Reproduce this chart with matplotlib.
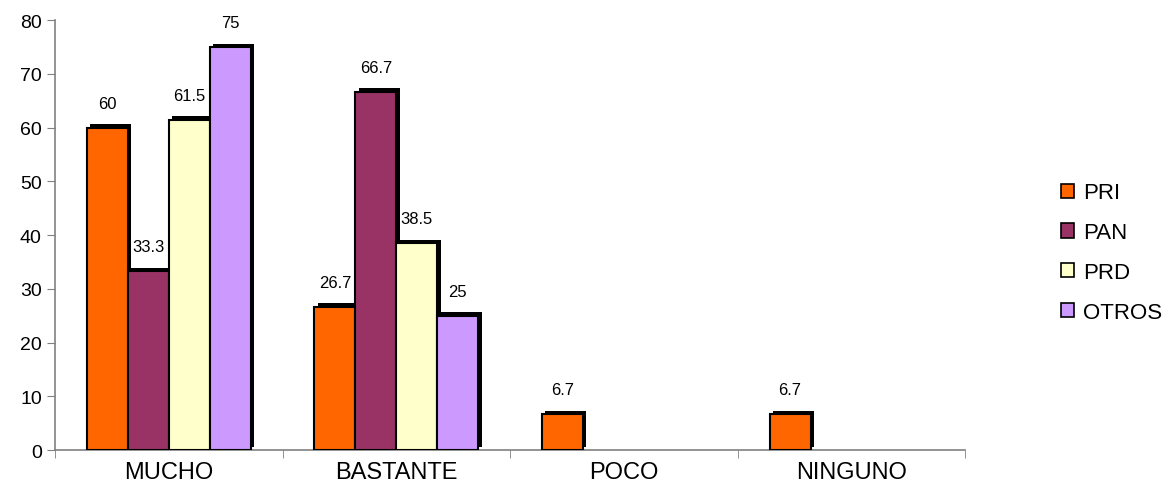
import matplotlib
matplotlib.use("Agg")
import matplotlib.pyplot as plt
import matplotlib.patheffects as pe
import numpy as np

categories = ["MUCHO", "BASTANTE", "POCO", "NINGUNO"]
series = ["PRI", "PAN", "PRD", "OTROS"]
PRI = [60, 26.7, 6.7, 6.7]
PAN = [33.3, 66.7, 0, 0]
PRD = [61.5, 38.5, 0, 0]
OTROS = [75, 25, 0, 0]
values = [PRI, PAN, PRD, OTROS]
colors = ["#FF6600", "#993366", "#FFFFCC", "#CC99FF"]

fig = plt.figure(figsize=(11.73, 4.89), dpi=100)
ax = fig.add_axes([0.0469, 0.0777, 0.776, 0.879])

x = np.arange(len(categories))
bw = 0.18
offsets = (np.arange(4) - 1.5) * bw
shadow = [pe.SimplePatchShadow(offset=(2.5, 2.5), shadow_rgbFace="black", alpha=1.0), pe.Normal()]
handles = []
for i, (name, vals, c) in enumerate(zip(series, values, colors)):
    xs, vs = [], []
    for xi, v in zip(x, vals):
        if v > 0:
            xs.append(xi + offsets[i]); vs.append(v)
    bars = ax.bar(xs, vs, width=bw, color=c, edgecolor="black", linewidth=1.5, label=name, zorder=3)
    for b in bars:
        b.set_path_effects(shadow)
    for xx, v in zip(xs, vs):
        lab = f"{v:g}"
        ax.annotate(lab, (xx, v), xytext=(0, 12), textcoords="offset points",
                    ha="center", va="bottom", fontsize=12, family="Liberation Sans")
    handles.append(bars)

ax.set_xlim(-0.5, 3.5)
ax.set_ylim(0, 80)
ax.set_yticks(range(0, 81, 10))
ax.set_xticks(x)
ax.set_xticklabels(categories, fontsize=17, family="Liberation Sans")
ax.set_xticks(np.arange(-0.5, 4, 1), minor=True)
ax.tick_params(axis="x", which="major", length=0, pad=8)
ax.tick_params(axis="x", which="minor", length=6, color="#808080", direction="out")
ax.tick_params(axis="y", length=6, color="#808080", labelsize=14)
for t in ax.get_yticklabels():
    t.set_family("Liberation Sans")
for s in ["top", "right"]:
    ax.spines[s].set_visible(False)
for s in ["left", "bottom"]:
    ax.spines[s].set_color("#808080")
    ax.spines[s].set_linewidth(1.2)

leg = fig.legend(handles=[h.patches[0] for h in handles], labels=series,
                 loc="center left", bbox_to_anchor=(0.895, 0.481), frameon=False, borderpad=0,
                 prop={"family": "Liberation Sans", "size": 16}, handlelength=0.6, handleheight=0.6,
                 labelspacing=0.85, handletextpad=0.4)
for h in leg.legend_handles:
    h.set_path_effects([])
    h.set_linewidth(1.2)

fig.savefig("out.png", dpi=100)
